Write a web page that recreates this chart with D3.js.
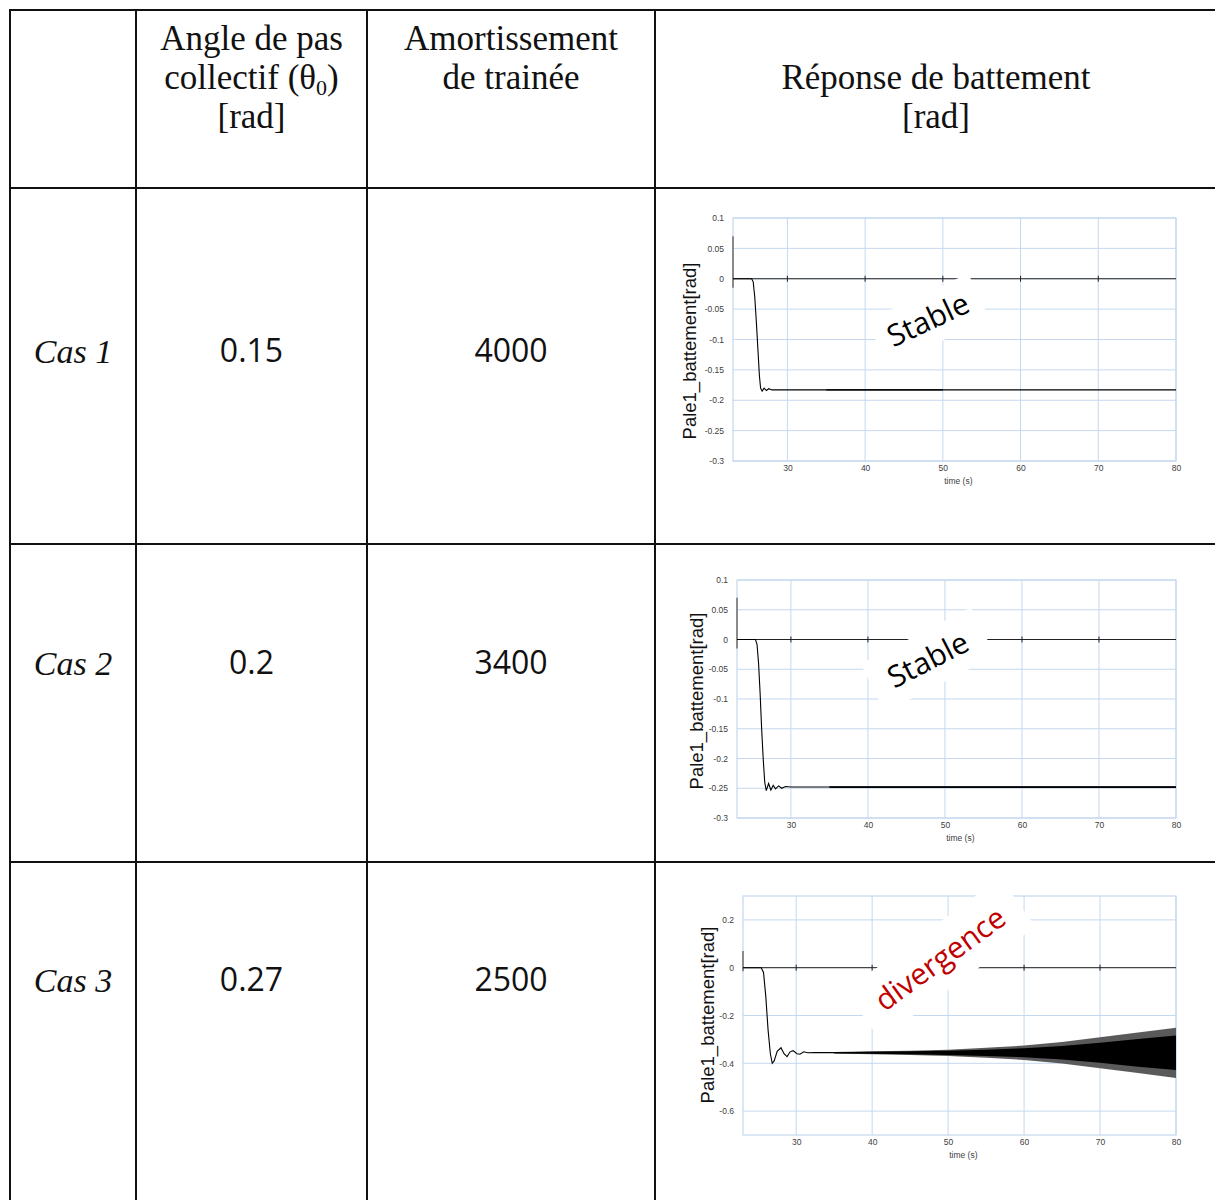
<!DOCTYPE html>
<html>
<head>
<meta charset="utf-8">
<script src="https://cdn.jsdelivr.net/npm/d3@7"></script>
<style>
  body { margin: 0; background: #fff; }
  svg { display: block; }
</style>
</head>
<body>
<svg id="chart" width="1215" height="1200"></svg>
<script>
// table content
const cases = ['Cas 1', 'Cas 2', 'Cas 3']
const pitch = ['0.15', '0.2', '0.27']
const damping = ['4000', '3400', '2500']
const notes = ['Stable', 'Stable', 'divergence']

// axes
const xTicks = [30, 40, 50, 60, 70, 80]
const yTicksSmall = [0.1, 0.05, 0, -0.05, -0.1, -0.15, -0.2, -0.25, -0.3]
const yTicksWide = [0.2, 0, -0.2, -0.4, -0.6]

// flapping response (time in s, angle in rad)
const time1 = [23, 25.4, 25.6, 25.8, 26.0, 26.2, 26.4, 26.55, 26.75, 27.0, 27.3, 27.6, 28.0, 80]
const resp1 = [0, 0, -0.005, -0.03, -0.07, -0.115, -0.16, -0.18, -0.185, -0.18, -0.184, -0.181, -0.183, -0.183]
const time2 = [23, 25.4, 25.6, 25.8, 26.0, 26.2, 26.4, 26.6, 26.8, 27.1, 27.4, 27.7, 28.0, 28.4, 28.8, 29.3, 30, 80]
const resp2 = [0, 0, -0.008, -0.04, -0.09, -0.15, -0.2, -0.24, -0.254, -0.242, -0.253, -0.245, -0.251, -0.246, -0.25, -0.247, -0.248, -0.248]
const time3 = [23, 25.4, 25.7, 26.0, 26.3, 26.6, 26.85, 27.1, 27.5, 28.0, 28.4, 28.8, 29.2, 29.6, 30.1, 30.5, 31.0, 31.5, 32.5, 80]
const resp3 = [0, 0, -0.02, -0.12, -0.26, -0.36, -0.4, -0.39, -0.35, -0.335, -0.36, -0.372, -0.352, -0.347, -0.36, -0.362, -0.352, -0.356, -0.355, -0.356]

// oscillation envelope (half amplitude around the settled value)
const bandTime1 = [35, 50]
const bandCore1 = [0.001, 0.001]
const bandTime2 = [35, 80]
const bandCore2 = [0.0015, 0.0015]
const bandTime3 = [35, 40, 45, 50, 55, 60, 65, 70, 75, 80]
const bandCore3 = [0.002, 0.004, 0.006, 0.009, 0.013, 0.019, 0.028, 0.042, 0.058, 0.072]
const bandPeak3 = [0.003, 0.006, 0.009, 0.013, 0.021, 0.03, 0.045, 0.065, 0.085, 0.105]

const svg = d3.select('#chart')
svg.append('rect').attr('width', 1215).attr('height', 1200).attr('fill', '#fff')

const colX = [10, 136, 367, 655]
const rowY = [10, 188, 544, 862]
const textY = [351, 663, 980]
const serif = 'Liberation Serif, Times New Roman, serif'
const sans = 'Open Sans, Noto Sans, sans-serif'

// --- table grid
svg.selectAll('.hline')
  .data(rowY)
  .enter().append('line')
  .attr('x1', colX[0] - 1).attr('x2', 1215)
  .attr('y1', d => d).attr('y2', d => d)
  .attr('stroke', '#111').attr('stroke-width', 2)

svg.selectAll('.vline')
  .data(colX)
  .enter().append('line')
  .attr('x1', d => d).attr('x2', d => d)
  .attr('y1', rowY[0] - 1).attr('y2', 1200)
  .attr('stroke', '#111').attr('stroke-width', 2)

// --- header
const header = svg.append('g')
  .attr('font-family', serif)
  .attr('font-size', 35)
  .attr('text-anchor', 'middle')
  .attr('fill', '#111')

header.append('text').attr('x', 251.5).attr('y', 50).text('Angle de pas')
const coll = header.append('text').attr('x', 251.5).attr('y', 89)
coll.append('tspan').text('collectif (θ')
coll.append('tspan').attr('font-size', 22).attr('dy', 6).text('0')
coll.append('tspan').attr('dy', -6).text(')')
header.append('text').attr('x', 251.5).attr('y', 128).text('[rad]')

header.append('text').attr('x', 511).attr('y', 50).text('Amortissement')
header.append('text').attr('x', 511).attr('y', 89).text('de trainée')

header.append('text').attr('x', 936).attr('y', 89).text('Réponse de battement')
header.append('text').attr('x', 936).attr('y', 128).text('[rad]')

// --- body cells
svg.selectAll('.case')
  .data(cases)
  .enter().append('text')
  .attr('x', 73).attr('y', (d, i) => textY[i])
  .attr('dy', '0.35em')
  .attr('text-anchor', 'middle')
  .attr('font-family', serif)
  .attr('font-style', 'italic')
  .attr('font-size', 34)
  .attr('fill', '#111')
  .text(d => d)

svg.selectAll('.pitch')
  .data(pitch)
  .enter().append('text')
  .attr('x', 251.5).attr('y', (d, i) => textY[i])
  .attr('dy', '0.35em')
  .attr('text-anchor', 'middle')
  .attr('font-family', sans)
  .attr('font-size', 32)
  .attr('fill', '#111')
  .text(d => d)

svg.selectAll('.damping')
  .data(damping)
  .enter().append('text')
  .attr('x', 511).attr('y', (d, i) => textY[i])
  .attr('dy', '0.35em')
  .attr('text-anchor', 'middle')
  .attr('font-family', sans)
  .attr('font-size', 32)
  .attr('fill', '#111')
  .text(d => d)

// --- small response plots
const gridColor = '#c5d8ef'

const panels = [
  {
    left: 733, right: 1176, top: 218, bottom: 461, titleX: 690, titleY: 351,
    yDomain: [-0.3, 0.1], yTicks: yTicksSmall,
    time: time1, resp: resp1, bandTime: bandTime1, bandCore: bandCore1, bandPeak: null,
    note: { text: notes[0], t: 48.1, v: -0.0675, angle: -25, w: 112, h: 50, color: '#000' }
  },
  {
    left: 737, right: 1176, top: 580, bottom: 818, titleX: 697, titleY: 701,
    yDomain: [-0.3, 0.1], yTicks: yTicksSmall,
    time: time2, resp: resp2, bandTime: bandTime2, bandCore: bandCore2, bandPeak: null,
    note: { text: notes[1], t: 47.8, v: -0.034, angle: -27, w: 124, h: 54, color: '#000' }
  },
  {
    left: 743, right: 1176, top: 896, bottom: 1135, titleX: 708, titleY: 1015,
    yDomain: [-0.7, 0.3], yTicks: yTicksWide,
    time: time3, resp: resp3, bandTime: bandTime3, bandCore: bandCore3, bandPeak: bandPeak3,
    note: { text: notes[2], t: 48.95, v: 0.0375, angle: -36, w: 192, h: 60, color: '#c00000' }
  }
]

const drawPanel = p => {
  const x = d3.scaleLinear().domain([23, 80]).range([p.left, p.right])
  const y = d3.scaleLinear().domain(p.yDomain).range([p.bottom, p.top])
  const g = svg.append('g')

  // grid
  g.selectAll('.vgrid')
    .data(xTicks)
    .enter().append('line')
    .attr('x1', d => x(d)).attr('x2', d => x(d))
    .attr('y1', p.top).attr('y2', p.bottom)
    .attr('stroke', gridColor).attr('stroke-width', 1)

  g.selectAll('.hgrid')
    .data(p.yTicks)
    .enter().append('line')
    .attr('x1', p.left).attr('x2', p.right)
    .attr('y1', d => y(d)).attr('y2', d => y(d))
    .attr('stroke', gridColor).attr('stroke-width', 1)

  g.append('rect')
    .attr('x', p.left).attr('y', p.top)
    .attr('width', p.right - p.left).attr('height', p.bottom - p.top)
    .attr('fill', 'none').attr('stroke', gridColor).attr('stroke-width', 1.2)

  // darker piece of the value axis around zero
  g.append('line')
    .attr('x1', p.left).attr('x2', p.left)
    .attr('y1', y(0.07)).attr('y2', y(-0.015))
    .attr('stroke', '#8a8a8a').attr('stroke-width', 2)

  // zero axis with its tick marks
  g.append('line')
    .attr('x1', p.left).attr('x2', p.right)
    .attr('y1', y(0)).attr('y2', y(0))
    .attr('stroke', '#222').attr('stroke-width', 1)
  g.selectAll('.ztick')
    .data(xTicks.slice(0, -1))
    .enter().append('line')
    .attr('x1', d => x(d)).attr('x2', d => x(d))
    .attr('y1', y(0) - 3).attr('y2', y(0) + 3)
    .attr('stroke', '#222').attr('stroke-width', 1)

  // tick labels
  g.append('g')
    .attr('transform', 'translate(' + p.left + ',0)')
    .call(d3.axisLeft(y).tickValues(p.yTicks).tickSize(0).tickPadding(9).tickFormat(d => String(d)))
    .call(a => a.select('.domain').remove())
    .selectAll('text')
    .attr('font-family', 'Liberation Sans, Arial, sans-serif')
    .attr('font-size', 8.5)
    .attr('fill', '#404040')

  g.append('g')
    .attr('transform', 'translate(0,' + p.bottom + ')')
    .call(d3.axisBottom(x).tickValues(xTicks).tickSize(0).tickPadding(4))
    .call(a => a.select('.domain').remove())
    .selectAll('text')
    .attr('font-family', 'Liberation Sans, Arial, sans-serif')
    .attr('font-size', 8.5)
    .attr('fill', '#404040')

  g.append('text')
    .attr('x', x(52)).attr('y', p.bottom + 23)
    .attr('text-anchor', 'middle')
    .attr('font-family', 'Liberation Sans, Arial, sans-serif')
    .attr('font-size', 8.5)
    .attr('fill', '#404040')
    .text('time (s)')

  g.append('text')
    .attr('transform', 'translate(' + p.titleX + ',' + p.titleY + ') rotate(-90)')
    .attr('dy', '0.35em')
    .attr('text-anchor', 'middle')
    .attr('font-family', 'Liberation Sans, Arial, sans-serif')
    .attr('font-size', 18.5)
    .attr('fill', '#111')
    .text('Pale1_battement[rad]')

  // white box behind the rotated note
  const note = g.append('g')
    .attr('transform', 'translate(' + x(p.note.t) + ',' + y(p.note.v) + ') rotate(' + p.note.angle + ')')
  note.append('rect')
    .attr('x', -p.note.w / 2).attr('y', -p.note.h / 2)
    .attr('width', p.note.w).attr('height', p.note.h)
    .attr('fill', '#fff')

  // response
  const level = p.resp[p.resp.length - 1]
  const band = (dev) => d3.area()
    .x((d, i) => x(p.bandTime[i]))
    .y0((d, i) => y(level - dev[i]))
    .y1((d, i) => y(level + dev[i]))

  if (p.bandPeak) {
    g.append('path')
      .attr('d', band(p.bandPeak)(p.bandPeak))
      .attr('fill', '#5a5a5a')
  }
  g.append('path')
    .attr('d', band(p.bandCore)(p.bandCore))
    .attr('fill', '#000')

  const line = d3.line()
    .x((d, i) => x(p.time[i]))
    .y(d => y(d))
  g.append('path')
    .attr('d', line(p.resp))
    .attr('fill', 'none')
    .attr('stroke', '#000')
    .attr('stroke-width', 1.1)

  note.append('text')
    .attr('dy', '0.35em')
    .attr('text-anchor', 'middle')
    .attr('font-family', sans)
    .attr('font-size', 30)
    .attr('fill', p.note.color)
    .text(p.note.text)
}

panels.forEach(drawPanel)
</script>
</body>
</html>
